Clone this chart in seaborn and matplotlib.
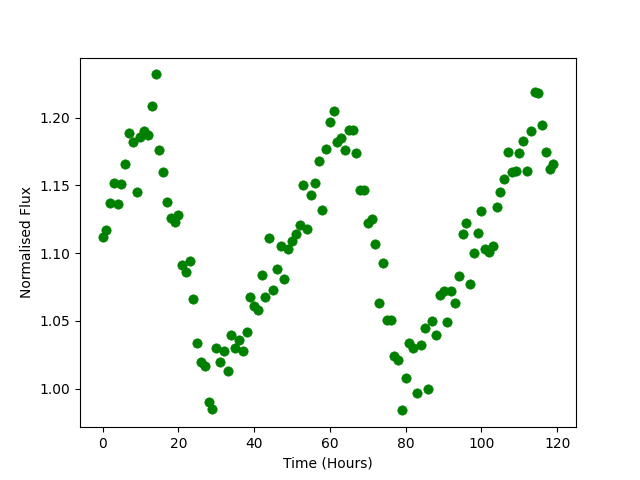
import matplotlib
matplotlib.use("Agg")
import matplotlib.pyplot as plt
import seaborn as sns
import pandas as pd

hours = list(range(120))
flux = [
    1.112, 1.117, 1.137, 1.152, 1.136, 1.151, 1.166, 1.189, 1.182, 1.145,
    1.186, 1.190, 1.187, 1.209, 1.232, 1.176, 1.160, 1.138, 1.126, 1.123,
    1.128, 1.091, 1.086, 1.094, 1.066, 1.034, 1.020, 1.017, 0.990, 0.985,
    1.030, 1.020, 1.028, 1.013, 1.040, 1.030, 1.036, 1.028, 1.042, 1.068,
    1.061, 1.058, 1.084, 1.068, 1.111, 1.073, 1.088, 1.105, 1.081, 1.103,
    1.109, 1.114, 1.121, 1.150, 1.118, 1.143, 1.152, 1.168, 1.132, 1.177,
    1.197, 1.205, 1.182, 1.185, 1.176, 1.191, 1.191, 1.174, 1.147, 1.147,
    1.122, 1.125, 1.107, 1.063, 1.093, 1.051, 1.051, 1.024, 1.021, 0.984,
    1.008, 1.034, 1.030, 0.997, 1.032, 1.045, 1.000, 1.050, 1.040, 1.069,
    1.072, 1.049, 1.072, 1.063, 1.083, 1.114, 1.122, 1.077, 1.100, 1.115,
    1.131, 1.103, 1.101, 1.105, 1.134, 1.145, 1.155, 1.175, 1.160, 1.161,
    1.174, 1.183, 1.161, 1.190, 1.219, 1.218, 1.195, 1.175, 1.162, 1.166,
]

df = pd.DataFrame({"Time (Hours)": hours, "Normalised Flux": flux})

fig, ax = plt.subplots(figsize=(6.4, 4.8), dpi=100)
sns.scatterplot(data=df, x="Time (Hours)", y="Normalised Flux", ax=ax,
                color="green", edgecolor="green", linewidth=0.5, s=45)
ax.set_xlabel("Time (Hours)")
ax.set_ylabel("Normalised Flux")
ax.set_xticks([0, 20, 40, 60, 80, 100, 120])
ax.set_yticks([1.00, 1.05, 1.10, 1.15, 1.20])
fig.savefig("out.png", dpi=100)
